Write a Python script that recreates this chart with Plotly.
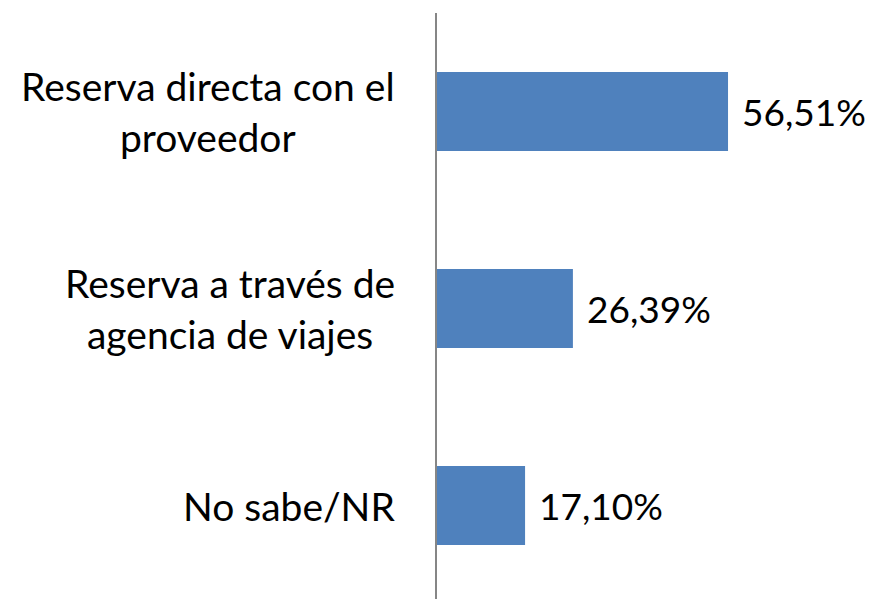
import plotly.graph_objects as go

categories = ["Reserva directa con el<br>proveedor",
              "Reserva a través de<br>agencia de viajes",
              "No sabe/NR"]
values = [56.51, 26.39, 17.10]
value_labels = ["56,51%", "26,39%", "17,10%"]

FONT = "Lato, Calibri, Carlito, sans-serif"

# page body has an 8px default margin; compensate so plot lands where the reference has it
OFF = 8
W, H = 876 - OFF, 599 - OFF
AXIS_X = 437 - OFF
TOP = 13 - OFF
PX_PER_CAT = 197
PX_PER_PCT = 5.15

fig = go.Figure()
fig.add_trace(go.Bar(
    x=values, y=categories, orientation="h",
    marker=dict(color="#4F81BD", line=dict(width=0)),
    width=0.4, hoverinfo="skip",
))

for c, v, t in zip(categories, values, value_labels):
    fig.add_annotation(x=v, y=c, text=t, showarrow=False, xanchor="left",
                       yanchor="middle", xshift=12,
                       font=dict(family=FONT, size=37, color="black"))
    fig.add_annotation(x=0, xref="paper", y=c, text=c, showarrow=False, xanchor="right",
                       yanchor="middle", align="center", xshift=-40,
                       font=dict(family=FONT, size=39, color="black"))

fig.update_layout(
    width=W, height=H,
    margin=dict(l=AXIS_X, r=0, t=TOP, b=0),
    paper_bgcolor="white", plot_bgcolor="white",
    showlegend=False,
    xaxis=dict(range=[0, (W - AXIS_X) / PX_PER_PCT], showgrid=False, zeroline=False,
               showticklabels=False, showline=False, fixedrange=True),
    yaxis=dict(range=[-0.5 + (H - TOP) / PX_PER_CAT, -0.5], showgrid=False, zeroline=False,
               showticklabels=False, showline=True, linecolor="#868686", linewidth=2,
               ticks="", fixedrange=True),
)

fig.write_html("out.html", config={"displayModeBar": False})
